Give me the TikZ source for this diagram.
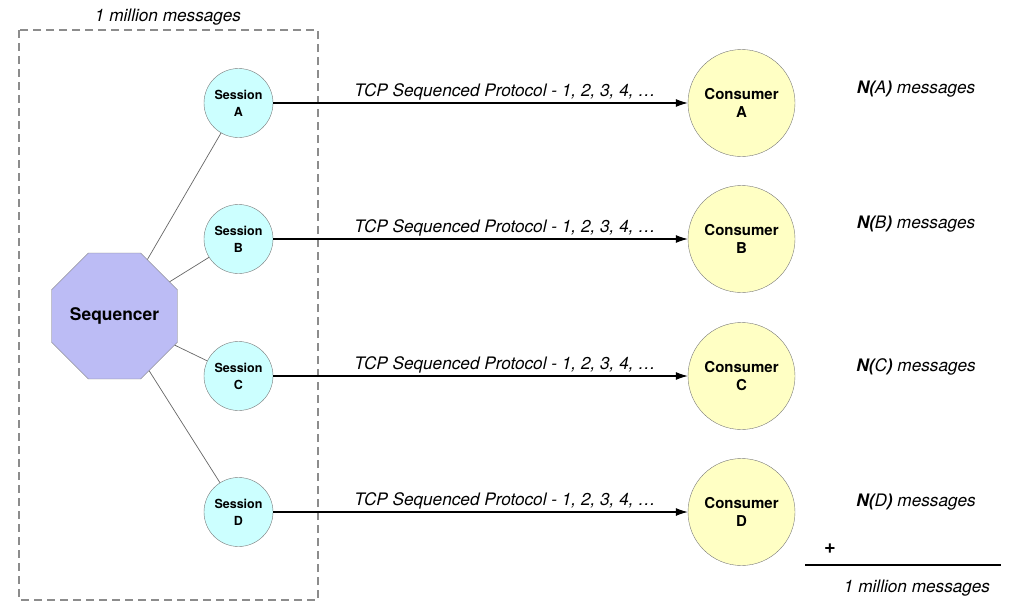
\documentclass[tikz,border=0pt]{standalone}
\usepackage{fontspec}
\setmainfont{TeX Gyre Heros}
\usetikzlibrary{shapes.geometric,arrows.meta}

\definecolor{sessfill}{RGB}{204,255,255}
\definecolor{consfill}{RGB}{255,255,196}
\definecolor{seqfill}{RGB}{188,188,245}
\definecolor{bordergray}{RGB}{120,120,120}

\tikzset{
	session/.style={circle, draw=bordergray, fill=sessfill, minimum size=69pt, inner sep=0pt, align=center, font=\bfseries\fontsize{12.5}{17}\selectfont},
	consumer/.style={circle, draw=bordergray, fill=consfill, minimum size=107pt, inner sep=0pt, align=center, font=\bfseries\fontsize{15}{18}\selectfont},
	sequencer/.style={regular polygon, regular polygon sides=8, draw=bordergray, fill=seqfill, minimum size=133pt, inner sep=0pt, font=\bfseries\fontsize{17.4}{20}\selectfont},
	label/.style={font=\itshape\fontsize{17.2}{20}\selectfont, anchor=base},
	link/.style={draw=black!60, line width=0.7pt},
	feed/.style={-{Latex[length=12pt,width=8pt]}, line width=1.1pt}
}

\begin{document}
\begin{tikzpicture}[x=1pt, y=-1pt]
	\useasboundingbox (0,0) rectangle (1024,613);
	
	% group of sessions
	\draw[draw=black!45, line width=1.3pt, dash pattern=on 8pt off 5pt] (19,30) rectangle (318,600);
	\node[label] (total) at (168,21) {1 million messages};
	
	\node[sequencer] (seq) at (114.5,316) {Sequencer};
	
	\node[session] (sA) at (238.5,103) {Session\\A};
	\node[session] (sB) at (238.5,239) {Session\\B};
	\node[session] (sC) at (238.5,376) {Session\\C};
	\node[session] (sD) at (238.5,512) {Session\\D};
	
	\node[consumer] (cA) at (741.5,103) {Consumer\\A};
	\node[consumer] (cB) at (741.5,239) {Consumer\\B};
	\node[consumer] (cC) at (741.5,376) {Consumer\\C};
	\node[consumer] (cD) at (741.5,512) {Consumer\\D};
	
	\draw[link] (seq) -- (sA);
	\draw[link] (seq) -- (sB);
	\draw[link] (seq) -- (sC);
	\draw[link] (seq) -- (sD);
	
	\draw[feed] (sA) -- (cA);
	\draw[feed] (sB) -- (cB);
	\draw[feed] (sC) -- (cC);
	\draw[feed] (sD) -- (cD);
	
	\node[label] (pA) at (505,96) {TCP Sequenced Protocol - 1, 2, 3, 4, …};
	\node[label] (pB) at (505,232) {TCP Sequenced Protocol - 1, 2, 3, 4, …};
	\node[label] (pC) at (505,369) {TCP Sequenced Protocol - 1, 2, 3, 4, …};
	\node[label] (pD) at (505,505) {TCP Sequenced Protocol - 1, 2, 3, 4, …};
	
	\node[label] (nA) at (916,93) {\textbf{N(}A\textbf{)} messages};
	\node[label] (nB) at (916,228) {\textbf{N(}B\textbf{)} messages};
	\node[label] (nC) at (916,371) {\textbf{N(}C\textbf{)} messages};
	\node[label] (nD) at (916,506) {\textbf{N(}D\textbf{)} messages};
	
	% sum
	\node[font=\bfseries\fontsize{20}{22}\selectfont] (plus) at (830,549) {+};
	\coordinate (sumL) at (805,565);
	\coordinate (sumR) at (1001,565);
	\draw[line width=1.8pt] (sumL) -- (sumR);
	\node[label] (sum) at (917,592) {1 million messages};
\end{tikzpicture}
\end{document}
